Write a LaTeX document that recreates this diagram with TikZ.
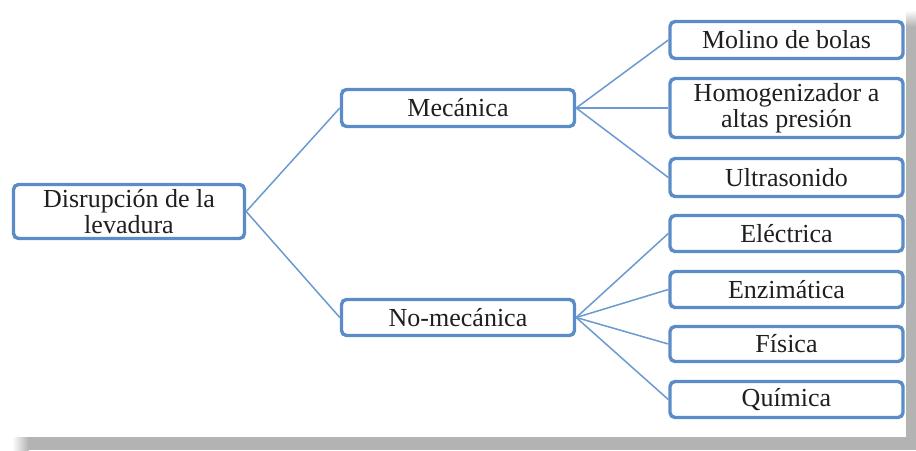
\documentclass[tikz,border=0pt]{standalone}
\usepackage{fontspec}
\setmainfont{Liberation Serif}
\definecolor{boxblue}{HTML}{5B8CC8}
\definecolor{linkblue}{HTML}{6A9AD0}
\definecolor{shadowgray}{HTML}{B3B3B3}
\begin{document}
\begin{tikzpicture}[x=1pt,y=-1pt,
  box/.style={draw=boxblue, line width=3.4pt, rounded corners=5pt, fill=white,
    inner sep=0pt, align=center, minimum width=233pt,
    font=\fontsize{26}{25.5}\selectfont, text=black!88},
  link/.style={draw=linkblue, line width=1.5pt}]
\useasboundingbox (0,0) rectangle (916,450);
% page shadow along the right and bottom edges
\fill[shadowgray] (28,437) rectangle (916,450);
\shade[left color=white, right color=shadowgray] (12,437) rectangle (28.5,450);
\fill[shadowgray] (906,26) rectangle (916,450);
\shade[top color=white, bottom color=shadowgray] (906,10) rectangle (916,26.5);

% boxes
\node[box, minimum width=231pt, minimum height=54pt] (root) at (129,211.5) {Disrupción de la\\levadura};
\node[box, minimum height=37pt] (mec) at (458,108) {Mecánica};
\node[box, minimum height=36pt] (nomec) at (458,317.5) {No-mecánica};

\node[box, minimum height=37pt] (molino) at (786.5,40) {Molino de bolas};
\node[box, minimum height=59pt] (homo) at (786.5,108) {Homogenizador a\\altas presión};
\node[box, minimum height=38pt] (ultra) at (786.5,177.5) {Ultrasonido};
\node[box, minimum height=36pt] (elec) at (786.5,233.5) {Eléctrica};
\node[box, minimum height=36pt] (enzi) at (786.5,289.5) {Enzimática};
\node[box, minimum height=35pt] (fisi) at (786.5,344) {Física};
\node[box, minimum height=36pt] (quim) at (786.5,399.5) {Química};

% connectors
\draw[link] (root.east) -- (mec.west);
\draw[link] (root.east) -- (nomec.west);
\foreach \c in {molino,homo,ultra}
  \draw[link] (mec.east) -- (\c.west);
\foreach \c in {elec,enzi,fisi,quim}
  \draw[link] (nomec.east) -- (\c.west);
\end{tikzpicture}
\end{document}
